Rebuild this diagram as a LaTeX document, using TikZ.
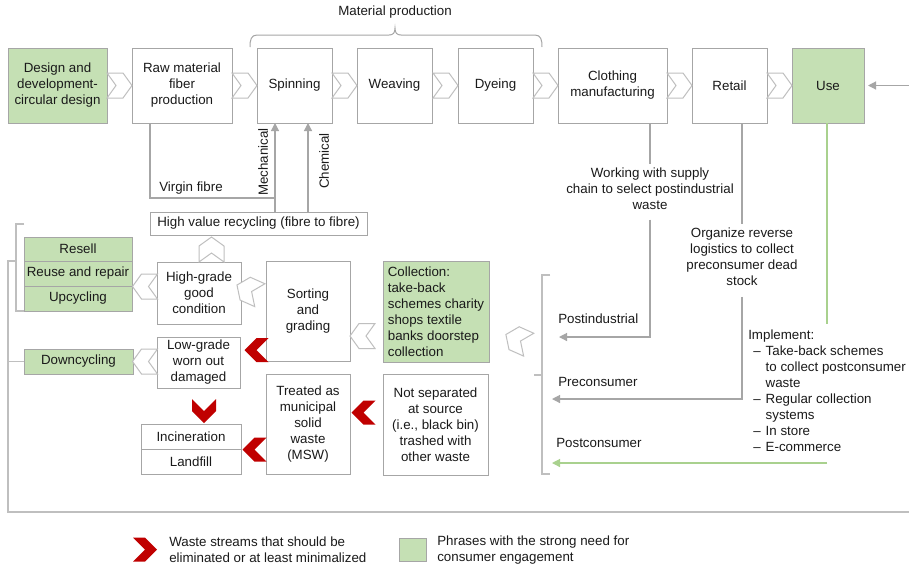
\documentclass[tikz,border=0pt]{standalone}
\usepackage{fontspec}
\setmainfont{Liberation Sans}
\usetikzlibrary{arrows.meta}
\definecolor{boxgray}{HTML}{A6A6A6}
\definecolor{linegray}{HTML}{A6A6A6}
\definecolor{lightgray}{HTML}{BFBFBF}
\definecolor{chevgray}{HTML}{BFBFBF}
\definecolor{leaf}{HTML}{C5E0B4}
\definecolor{leafline}{HTML}{A9D18E}
\definecolor{waste}{HTML}{C00000}
\definecolor{ink}{HTML}{1A1A1A}
\newcommand\txt{\fontsize{10}{12}\selectfont}
\newcommand\bulletdash{\kern3.75pt\textendash\kern3.75pt}
% \stagebox[style]{name}{x1}{y1}{x2}{y2}{text}: rectangle node spanning two corners
\newcommand\stagebox[7][box]{%
  \node[#1, minimum width={(#5-#3)*0.75pt}, minimum height={(#6-#4)*0.75pt}]
    (#2) at ({(#3+#5)/2},{(#4+#6)/2}) {#7};}

\begin{document}
\begin{tikzpicture}[x=0.75pt,y=-0.75pt, font=\txt, text=ink,
  box/.style={draw=boxgray, line width=0.75pt, fill=white, inner sep=0pt, outer sep=0pt, align=center},
  gbox/.style={box, fill=leaf},
  lbl/.style={inner sep=0pt, align=center},
  note/.style={inner sep=3pt, align=center},
  link/.style={draw=linegray, line width=0.9pt},
  frame/.style={draw=lightgray, line width=0.9pt},
  flow/.style={link, -{Triangle[length=6pt,width=6pt]}},
  gflow/.style={draw=leafline, line width=0.9pt, -{Triangle[length=6pt,width=6pt]}},
  hchev/.pic={\draw[chevgray, fill=white, line width=0.75pt, line join=miter]
     (-12.5,-12.5) -- (3.5,-12.5) -- (12.5,0) -- (3.5,12.5) -- (-12.5,12.5) -- (-3.5,0) -- cycle;},
  rchev/.pic={\fill[waste]
     (-12,-12) -- (0,-12) -- (12,0) -- (0,12) -- (-12,12) -- (0,0) -- cycle;},
]
\useasboundingbox (0,0) rectangle (909,569);
\fill[white] (0,0) rectangle (909,569);

% ---------- production chain ----------
\stagebox[gbox]{design}{8}{48}{107}{123}{Design and\\development-\\circular design}
\stagebox{raw}{132}{48}{232}{123}{Raw material\\fiber\\production}
\stagebox{spin}{257}{48}{332}{123}{Spinning}
\stagebox{weave}{357}{48}{432}{123}{Weaving}
\stagebox{dye}{458}{48}{533}{123}{Dyeing}
\stagebox{cloth}{558}{48}{667}{123}{Clothing\\manufacturing}
\stagebox{retail}{692}{48}{767}{123}{Retail}
\stagebox[gbox]{use}{792}{48}{864}{123}{Use}

\foreach \cx in {119.5,244.5,344.5,445.5,545.5,679.5,779.5}
  \pic at (\cx,85.5) {hchev};

% brace over the material production steps
\draw[link, line width=0.75pt] (250,47) .. controls (250,40) and (251,35) .. (257,35) -- (389,35)
  .. controls (393,35) and (395,33) .. (395,28) .. controls (395,33) and (397,35) .. (401,35)
  -- (535,35) .. controls (541,35) and (542,40) .. (542,47);
\node[lbl] (matprod) at (395,12) {Material production};

% incoming flow into use
\coordinate (rin) at (909,85.5);
\draw[flow, shorten >=3pt] (rin) -- (use.east);

% ---------- fibre recycling ----------
\stagebox{hv}{150}{212}{367}{235}{High value recycling (fibre to fibre)}
\coordinate (vf) at (150,198);
\coordinate (mech) at (275,198);
\coordinate (chem) at (308,198);
\draw[link] (raw.south -| vf) -- (vf) -- (mech);
\draw[flow] (hv.north -| mech) -- (spin.south -| mech);
\draw[flow] (hv.north -| chem) -- (spin.south -| chem);
\node[lbl] (virgin) at (191,188) {Virgin fibre};
\node[lbl, rotate=90] (lmech) at (263,162) {Mechanical};
\node[lbl, rotate=90] (lchem) at (324,161) {Chemical};

% ---------- reuse / downcycling ----------
\stagebox[gbox]{resell}{24}{237}{132}{261}{Resell}
\stagebox[gbox]{reuse}{24}{261}{132}{286}{Reuse and repair}
\stagebox[gbox]{upcyc}{24}{286}{132}{311}{Upcycling}
\stagebox[gbox]{downc}{24}{349}{133}{374}{Downcycling}

\stagebox{high}{157}{262}{241}{324}{High-grade\\good\\condition}
\stagebox{low}{157}{337}{240}{388}{Low-grade\\worn out\\damaged}
\stagebox{sort}{266}{261}{350}{361}{Sorting\\and\\grading}
\stagebox{incin}{141}{424}{241}{449}{Incineration}
\stagebox{landf}{141}{449}{241}{474}{Landfill}
\stagebox{msw}{266}{374}{350}{474}{Treated as\\municipal\\solid\\waste\\(MSW)}
\stagebox{notsep}{383}{374}{488}{475}{Not separated\\at source\\(i.e., black bin)\\trashed with\\other waste}
\stagebox[gbox, align=left]{collect}{383}{261}{489}{362}%
  {Collection:\\take-back\\schemes charity\\shops textile\\banks doorstep\\collection}

% feedback frame on the left
\draw[frame] (resell.north west) ++(0,-13) coordinate (bt) -- ++(-8,0) coordinate (bl)
  |- (upcyc.south west);
\coordinate (fb) at (8,261);
\coordinate (fe) at (909,512);
\draw[frame] (fb -| bl) -- (fb) |- (fe);
\draw[frame] (downc.west -| fb) -- (downc.west);

% hollow chevrons between stages
\pic[rotate=90]  at (211.5,249.5) {hchev};
\pic[rotate=180] at (145,286.5) {hchev};
\pic[rotate=180] at (145,361.5) {hchev};
\pic[rotate=180] at (362.5,336) {hchev};
\pic[rotate=156] at (248.4,290.1) {hchev};
\pic[rotate=156] at (517.3,339.6) {hchev};

% waste streams
\pic[rotate=180] at (256.5,350) {rchev};
\pic[rotate=180] at (363.5,412.5) {rchev};
\pic[rotate=180] at (254.5,449.5) {rchev};
\pic[rotate=-90] at (204,411) {rchev};

% ---------- return flows ----------
\draw[frame] (550,275) -- (542,275) -- (542,474) -- (550,474);
\draw[frame] (534,375) -- (542,375);

\node[note] (work) at (650,189) {Working with supply\\chain to select postindustrial\\waste};
\draw[link] (cloth.south -| work) -- (work.north);
\coordinate (pind) at (559,337);
\draw[flow, shorten <=4pt] (work.south) |- (pind);
\node[lbl, anchor=west] (lpind) at (558,319) {Postindustrial};

\node[note] (org) at (742,257) {Organize reverse\\logistics to collect\\preconsumer dead\\stock};
\draw[link] (retail.south -| org) -- (org.north);
\coordinate (pcon) at (552,399);
\draw[flow, shorten <=5pt] (org.south) |- (pcon);
\node[lbl, anchor=west] (lpcon) at (558,382) {Preconsumer};

\coordinate (gx) at (827,324);
\draw[leafline, line width=0.9pt] (use.south -| gx) -- (gx);
\coordinate (gs) at (827,463);
\coordinate (pcs) at (552,463);
\draw[gflow] (gs) -- (pcs);
\node[lbl, anchor=west] (lpcs) at (556,443) {Postconsumer};

\node[lbl, anchor=north west, align=left] (impl) at (748,328) {%
  \begin{tabular}{@{}l@{}l@{}}
  \multicolumn{2}{@{}l@{}}{Implement:}\\
  \bulletdash & Take-back schemes\\
              & to collect postconsumer\\
              & waste\\
  \bulletdash & Regular collection\\
              & systems\\
  \bulletdash & In store\\
  \bulletdash & E-commerce
  \end{tabular}};

% ---------- legend ----------
\pic at (145,549.5) {rchev};
\node[lbl, anchor=west, align=left] (lwaste) at (169,550)
  {Waste streams that should be\\eliminated or at least minimalized};
\stagebox[gbox]{lgreen}{399}{538}{426}{561}{}
\node[lbl, anchor=west, align=left] (lphr) at (437,550)
  {Phrases with the strong need for\\consumer engagement};
\end{tikzpicture}
\end{document}
